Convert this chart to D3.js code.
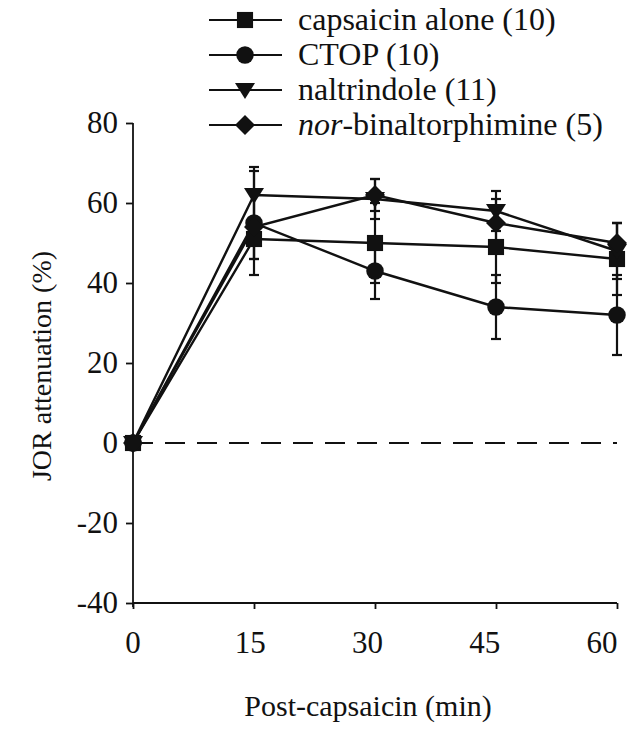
<!DOCTYPE html>
<html>
<head>
<meta charset="utf-8">
<script src="https://cdn.jsdelivr.net/npm/d3@7"></script>
<style>
  body { margin: 0; background: #fff; }
  text { font-family: "Liberation Serif", "Times New Roman", serif; fill: #111; }
</style>
</head>
<body>
<div id="chart"></div>
<script>
// Tijdstippen na capsaicine (min).
const times = [0, 15, 30, 45, 60];
const yTicks = [-40, -20, 0, 20, 40, 60, 80];

// Gemiddelden en foutbalken per groep.
const capsaicinAlone = [0, 51, 50, 49, 46];
const capsaicinAloneErr = [0, 5, 10, 9, 9];
const ctop = [0, 55, 43, 34, 32];
const ctopErr = [0, 13, 7, 8, 10];
const naltrindole = [0, 62, 61, 58, 48];
const naltrindoleErr = [0, 7, 5, 5, 7];
const norBni = [0, 54, 62, 55, 50];
const norBniErr = [0, 8, 4, 6, 5];

const seriesLabels = ["capsaicin alone (10)", "CTOP (10)", "naltrindole (11)", "nor-binaltorphimine (5)"];
const seriesShapes = ["square", "circle", "triangle", "diamond"];

let series = [
  { label: seriesLabels[0], shape: seriesShapes[0], values: capsaicinAlone, err: capsaicinAloneErr },
  { label: seriesLabels[1], shape: seriesShapes[1], values: ctop, err: ctopErr },
  { label: seriesLabels[2], shape: seriesShapes[2], values: naltrindole, err: naltrindoleErr },
  { label: seriesLabels[3], shape: seriesShapes[3], values: norBni, err: norBniErr },
];

let cfg = {
  w: 639,
  h: 730,
  left: 133,
  right: 617,
  top: 123,
  bottom: 603,
  tickFont: 31,
  legendFont: 32,
  titleFont: 30,
};

let svg = d3
  .select("#chart")
  .append("svg")
  .attr("width", cfg.w)
  .attr("height", cfg.h);

let x = d3.scaleLinear().domain([0, 60]).range([cfg.left, cfg.right]);
// de getallen onder de as staan in het origineel iets naar links geschoven
let xLabel = d3.scaleLinear().domain([0, 60]).range([cfg.left, 602]);
let y = d3.scaleLinear().domain([-40, 80]).range([cfg.bottom, cfg.top]);

// Maakt de markers aan.
function markerPath(shape) {
  if (shape == "square") return d3.symbol().type(d3.symbolSquare).size(260)();
  if (shape == "circle") return d3.symbol().type(d3.symbolCircle).size(240)();
  if (shape == "triangle") return "M-10,-7L10,-7L0,9Z";
  return "M0,-10L10,0L0,10L-10,0Z";
}

// Y-as
let yAxis = svg
  .append("g")
  .attr("transform", "translate(" + cfg.left + ",0)")
  .call(
    d3.axisLeft(y)
      .tickValues(yTicks)
      .tickSize(7)
      .tickPadding(8)
      .tickFormat((d) => String(d))
  );
yAxis.select(".domain").attr("d", "M0," + cfg.top + "V" + (cfg.bottom + 4));
yAxis.selectAll("line, path").style("stroke", "#111").style("stroke-width", "1.8px");
yAxis.selectAll("text").style("font-size", cfg.tickFont + "px").style("font-family", null);

// X-as (labels apart)
let xAxis = svg
  .append("g")
  .attr("transform", "translate(0," + cfg.bottom + ")")
  .call(d3.axisBottom(x).tickValues(times).tickSize(6).tickFormat(""));
xAxis.select(".domain").attr("d", "M" + cfg.left + ",0H" + cfg.right);
xAxis.selectAll("line, path").style("stroke", "#111").style("stroke-width", "1.8px");

svg
  .selectAll(".xlabel")
  .data(times)
  .enter()
  .append("text")
  .attr("class", "xlabel")
  .attr("x", (d) => xLabel(d))
  .attr("y", cfg.bottom + 50)
  .attr("text-anchor", "middle")
  .style("font-size", cfg.tickFont + "px")
  .text((d) => d);

// Stippellijn op nul
svg
  .append("line")
  .attr("x1", x(0))
  .attr("x2", x(60))
  .attr("y1", y(0))
  .attr("y2", y(0))
  .style("stroke", "#111")
  .style("stroke-width", "1.8px")
  .style("stroke-dasharray", "20,12");

// As titels
svg
  .append("text")
  .attr("transform", "translate(51,366) rotate(-90)")
  .attr("text-anchor", "middle")
  .style("font-size", "28px")
  .text("JOR attenuation (%)");

svg
  .append("text")
  .attr("x", 368)
  .attr("y", 716)
  .attr("text-anchor", "middle")
  .style("font-size", cfg.titleFont + "px")
  .text("Post-capsaicin (min)");

let line = d3
  .line()
  .x((d, i) => x(times[i]))
  .y((d) => y(d));

// Lijnen per groep
svg
  .selectAll(".serie")
  .data(series)
  .enter()
  .append("path")
  .attr("class", "serie")
  .attr("d", (s) => line(s.values))
  .style("fill", "none")
  .style("stroke", "#111")
  .style("stroke-width", "2.4px");

// Foutbalken
series.forEach(function (s) {
  let bars = svg
    .selectAll(null)
    .data(s.values.map((v, i) => ({ t: times[i], v: v, e: s.err[i] })).filter((d) => d.e > 0))
    .enter()
    .append("g");
  bars
    .append("line")
    .attr("x1", (d) => x(d.t))
    .attr("x2", (d) => x(d.t))
    .attr("y1", (d) => y(d.v - d.e))
    .attr("y2", (d) => y(d.v + d.e));
  [-1, 1].forEach(function (sign) {
    bars
      .append("line")
      .attr("x1", (d) => x(d.t) - 5)
      .attr("x2", (d) => x(d.t) + 5)
      .attr("y1", (d) => y(d.v + sign * d.e))
      .attr("y2", (d) => y(d.v + sign * d.e));
  });
  bars.selectAll("line").style("stroke", "#111").style("stroke-width", "2.2px");
});

// Markers
series.forEach(function (s) {
  svg
    .selectAll(null)
    .data(s.values)
    .enter()
    .append("path")
    .attr("d", markerPath(s.shape))
    .attr("transform", (d, i) => "translate(" + x(times[i]) + "," + y(d) + ")")
    .style("fill", "#111");
});

// Legenda
let legend = svg
  .selectAll(".legend")
  .data(series)
  .enter()
  .append("g")
  .attr("class", "legend")
  .attr("transform", (d, i) => "translate(0," + (20 + i * 35) + ")");

legend
  .append("line")
  .attr("x1", 209)
  .attr("x2", 282)
  .style("stroke", "#111")
  .style("stroke-width", "2.2px");

legend
  .append("path")
  .attr("d", (d) => markerPath(d.shape))
  .attr("transform", "translate(245,0)")
  .style("fill", "#111");

legend.each(function (d) {
  let t = d3
    .select(this)
    .append("text")
    .attr("x", 298)
    .attr("y", 10)
    .style("font-size", cfg.legendFont + "px");
  if (d.label.startsWith("nor-")) {
    t.append("tspan").style("font-style", "italic").text("nor");
    t.append("tspan").text(d.label.slice(3));
  } else {
    t.text(d.label);
  }
});
</script>
</body>
</html>
